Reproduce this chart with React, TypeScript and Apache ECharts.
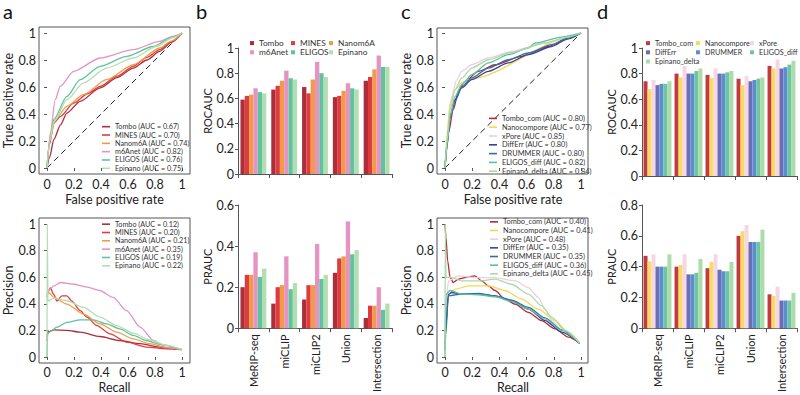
import React, { useEffect, useRef } from "react";
import * as echarts from "echarts";

const FONT = "Lato, 'Open Sans', sans-serif";

// ---------- categories / names ----------
const categories = ["MeRIP-seq", "miCLIP", "miCLIP2", "Union", "Intersection"];
const toolsB = ["Tombo", "MINES", "Nanom6A", "m6Anet", "ELIGOS", "Epinano"];
const colorsB = ["#ad2d3b", "#de3b3e", "#f39a48", "#e493c2", "#62c2a0", "#b2dfb1"];
const rocAucLabelsA = ["0.67", "0.70", "0.74", "0.82", "0.76", "0.75"];
const prAucLabelsA = ["0.12", "0.20", "0.21", "0.35", "0.19", "0.22"];

const toolsD = ["Tombo_com", "Nanocompore", "xPore", "DiffErr", "DRUMMER", "ELIGOS_diff", "Epinano_delta"];
const colorsD = ["#b42a36", "#f3d851", "#f0cde0", "#3d3f8f", "#2f6fa3", "#5cc0a3", "#a9daa6"];
const barColorsD = ["#c13a40", "#f8dc5f", "#f6d5e4", "#6b6db6", "#5a8ecd", "#6ec5a3", "#abdcaa"];
const rocAucLabelsC = ["0.80", "0.77", "0.85", "0.80", "0.80", "0.82", "0.84"];
const prAucLabelsC = ["0.40", "0.41", "0.48", "0.35", "0.35", "0.36", "0.45"];

// ---------- panel a: ROC curves [FPR, TPR] ----------
const rocTomboA = [[0, 0], [0.02, 0.08], [0.05, 0.21], [0.1, 0.32], [0.147, 0.407], [0.246, 0.494], [0.393, 0.593], [0.52, 0.67], [0.639, 0.74], [0.74, 0.8], [0.835, 0.864], [0.92, 0.93], [1, 1]];
const rocMinesA = [[0, 0], [0.02, 0.18], [0.05, 0.333], [0.098, 0.38], [0.197, 0.48], [0.3, 0.55], [0.393, 0.605], [0.52, 0.68], [0.639, 0.753], [0.74, 0.82], [0.835, 0.877], [0.92, 0.935], [1, 1]];
const rocNanom6aA = [[0, 0], [0.02, 0.2], [0.061, 0.358], [0.147, 0.457], [0.27, 0.543], [0.44, 0.654], [0.64, 0.765], [0.835, 0.889], [0.92, 0.94], [1, 1]];
const rocM6anetA = [[0, 0], [0.01, 0.14], [0.025, 0.26], [0.061, 0.506], [0.098, 0.605], [0.197, 0.716], [0.393, 0.815], [0.639, 0.877], [0.835, 0.938], [0.93, 0.975], [1, 1]];
const rocEligosA = [[0, 0], [0.02, 0.2], [0.05, 0.36], [0.147, 0.53], [0.246, 0.654], [0.393, 0.753], [0.59, 0.827], [0.786, 0.9], [0.93, 0.97], [1, 1]];
const rocEpinanoA = [[0, 0], [0.02, 0.2], [0.05, 0.34], [0.147, 0.506], [0.27, 0.63], [0.44, 0.74], [0.64, 0.815], [0.81, 0.9], [0.93, 0.965], [1, 1]];

// ---------- panel a: PR curves [Recall, Precision] ----------
const prTomboA = [[0, 0.12], [0.005, 0.2], [0.012, 0.19], [0.05, 0.204], [0.147, 0.2], [0.246, 0.187], [0.393, 0.154], [0.54, 0.124], [0.69, 0.1], [0.835, 0.075], [1, 0.055]];
const prMinesA = [[0, 0.45], [0.012, 0.5], [0.025, 0.52], [0.05, 0.47], [0.074, 0.42], [0.11, 0.46], [0.147, 0.46], [0.184, 0.42], [0.246, 0.348], [0.295, 0.3], [0.369, 0.236], [0.467, 0.174], [0.59, 0.112], [0.737, 0.075], [0.885, 0.062], [1, 0.055]];
const prNanom6aA = [[0, 0.47], [0.012, 0.485], [0.05, 0.448], [0.147, 0.398], [0.27, 0.323], [0.393, 0.249], [0.516, 0.187], [0.639, 0.137], [0.762, 0.1], [0.885, 0.07], [1, 0.055]];
const prM6anetA = [[0, 0.47], [0.012, 0.5], [0.05, 0.535], [0.1, 0.56], [0.2, 0.547], [0.29, 0.527], [0.39, 0.5], [0.49, 0.448], [0.59, 0.348], [0.69, 0.224], [0.79, 0.124], [0.88, 0.075], [1, 0.055]];
const prEligosA = [[0, 0], [0.005, 0.174], [0.025, 0.194], [0.074, 0.224], [0.147, 0.261], [0.246, 0.279], [0.344, 0.279], [0.442, 0.249], [0.54, 0.211], [0.639, 0.162], [0.737, 0.124], [0.835, 0.095], [1, 0.055]];
const prEpinanoA = [[0, 0], [0.002, 1], [0.007, 0.42], [0.05, 0.443], [0.147, 0.423], [0.27, 0.373], [0.393, 0.3], [0.516, 0.236], [0.639, 0.179], [0.762, 0.129], [0.885, 0.087], [1, 0.055]];

// ---------- panel b: bar values ----------
const rocTomboB = [0.59, 0.67, 0.69, 0.61, 0.74];
const rocMinesB = [0.62, 0.7, 0.64, 0.62, 0.77];
const rocNanom6aB = [0.63, 0.74, 0.75, 0.66, 0.83];
const rocM6anetB = [0.68, 0.82, 0.89, 0.72, 0.94];
const rocEligosB = [0.65, 0.76, 0.8, 0.68, 0.85];
const rocEpinanoB = [0.64, 0.75, 0.77, 0.67, 0.85];
const prTomboB = [0.2, 0.12, 0.14, 0.27, 0.05];
const prMinesB = [0.26, 0.2, 0.21, 0.34, 0.11];
const prNanom6aB = [0.26, 0.21, 0.21, 0.35, 0.11];
const prM6anetB = [0.37, 0.35, 0.41, 0.52, 0.2];
const prEligosB = [0.25, 0.19, 0.24, 0.36, 0.09];
const prEpinanoB = [0.29, 0.22, 0.26, 0.38, 0.12];

// ---------- panel c: ROC curves ----------
const rocTomboComC = [[0, 0], [0.025, 0.26], [0.061, 0.432], [0.098, 0.568], [0.147, 0.642], [0.245, 0.716], [0.368, 0.765], [0.564, 0.827], [0.76, 0.9], [0.9, 0.96], [1, 1]];
const rocNanocomporeC = [[0, 0], [0.015, 0.25], [0.037, 0.48], [0.074, 0.58], [0.123, 0.63], [0.172, 0.654], [0.22, 0.667], [0.907, 0.963], [1, 1]];
const rocXporeC = [[0, 0], [0.012, 0.15], [0.025, 0.31], [0.049, 0.53], [0.086, 0.654], [0.123, 0.716], [0.196, 0.765], [0.319, 0.815], [0.49, 0.864], [0.735, 0.926], [0.9, 0.97], [1, 1]];
const rocDiffErrC = [[0, 0], [0.015, 0.17], [0.037, 0.383], [0.074, 0.506], [0.123, 0.593], [0.196, 0.654], [0.319, 0.716], [0.466, 0.778], [0.613, 0.84], [0.784, 0.9], [0.9, 0.955], [1, 1]];
const rocDrummerC = [[0, 0], [0.015, 0.16], [0.037, 0.37], [0.074, 0.494], [0.123, 0.6], [0.196, 0.667], [0.319, 0.74], [0.466, 0.802], [0.613, 0.852], [0.784, 0.914], [0.9, 0.96], [1, 1]];
const rocEligosDiffC = [[0, 0], [0.015, 0.18], [0.037, 0.383], [0.074, 0.53], [0.123, 0.617], [0.196, 0.691], [0.319, 0.778], [0.466, 0.84], [0.613, 0.889], [0.662, 0.926], [0.858, 0.97], [1, 1]];
const rocEpinanoDeltaC = [[0, 0], [0.015, 0.2], [0.037, 0.43], [0.074, 0.58], [0.123, 0.667], [0.196, 0.74], [0.319, 0.802], [0.49, 0.857], [0.735, 0.926], [0.9, 0.97], [1, 1]];

// ---------- panel c: PR curves ----------
const prTomboComC = [[0, 1], [0.007, 0.9], [0.02, 0.72], [0.037, 0.6], [0.061, 0.56], [0.098, 0.585], [0.147, 0.597], [0.22, 0.61], [0.27, 0.572], [0.319, 0.535], [0.368, 0.5], [0.441, 0.435], [0.515, 0.398], [0.613, 0.336], [0.71, 0.274], [0.809, 0.211], [0.907, 0.149], [0.99, 0.104]];
const prNanocomporeC = [[0, 0.1], [0.005, 0.27], [0.025, 0.47], [0.074, 0.51], [0.172, 0.535], [0.319, 0.535], [0.441, 0.5], [0.564, 0.435], [0.686, 0.36], [0.809, 0.274], [0.907, 0.187], [0.99, 0.104]];
const prXporeC = [[0, 0.1], [0.005, 0.35], [0.025, 0.57], [0.098, 0.61], [0.22, 0.597], [0.368, 0.597], [0.515, 0.572], [0.613, 0.522], [0.686, 0.448], [0.735, 0.36], [0.784, 0.274], [0.858, 0.2], [0.99, 0.104]];
const prDiffErrC = [[0, 0.05], [0.005, 0.22], [0.025, 0.47], [0.049, 0.485], [0.123, 0.473], [0.245, 0.473], [0.368, 0.46], [0.49, 0.423], [0.613, 0.36], [0.735, 0.274], [0.858, 0.187], [0.99, 0.104]];
const prDrummerC = [[0, 0.05], [0.005, 0.17], [0.025, 0.46], [0.123, 0.473], [0.245, 0.478], [0.368, 0.46], [0.49, 0.428], [0.613, 0.373], [0.735, 0.294], [0.858, 0.204], [0.99, 0.104]];
const prEligosDiffC = [[0, 0], [0.007, 0.47], [0.037, 0.5], [0.123, 0.473], [0.245, 0.468], [0.368, 0.453], [0.49, 0.418], [0.613, 0.36], [0.735, 0.286], [0.858, 0.2], [0.99, 0.104]];
const prEpinanoDeltaC = [[0, 0], [0.002, 1], [0.007, 0.6], [0.049, 0.597], [0.123, 0.572], [0.245, 0.572], [0.368, 0.585], [0.49, 0.547], [0.613, 0.473], [0.71, 0.386], [0.784, 0.3], [0.882, 0.2], [0.99, 0.104]];

// ---------- panel d: bar values ----------
const rocTomboComD = [0.74, 0.8, 0.79, 0.76, 0.86];
const rocNanocomporeD = [0.68, 0.77, 0.765, 0.71, 0.84];
const rocXporeD = [0.75, 0.86, 0.84, 0.78, 0.91];
const rocDiffErrD = [0.71, 0.8, 0.8, 0.74, 0.84];
const rocDrummerD = [0.72, 0.8, 0.8, 0.75, 0.85];
const rocEligosDiffD = [0.72, 0.82, 0.81, 0.76, 0.87];
const rocEpinanoDeltaD = [0.74, 0.84, 0.82, 0.77, 0.9];
const prTomboComD = [0.47, 0.4, 0.39, 0.6, 0.22];
const prNanocomporeD = [0.435, 0.41, 0.43, 0.63, 0.21];
const prXporeD = [0.48, 0.48, 0.48, 0.67, 0.27];
const prDiffErrD = [0.4, 0.35, 0.38, 0.56, 0.18];
const prDrummerD = [0.4, 0.35, 0.37, 0.56, 0.18];
const prEligosDiffD = [0.4, 0.36, 0.37, 0.56, 0.18];
const prEpinanoDeltaD = [0.48, 0.45, 0.43, 0.64, 0.23];

const diagonal = [[0, 0], [1, 1]];

const rocCurvesA = [rocTomboA, rocMinesA, rocNanom6aA, rocM6anetA, rocEligosA, rocEpinanoA];
const prCurvesA = [prTomboA, prMinesA, prNanom6aA, prM6anetA, prEligosA, prEpinanoA];
const rocBarsB = [rocTomboB, rocMinesB, rocNanom6aB, rocM6anetB, rocEligosB, rocEpinanoB];
const prBarsB = [prTomboB, prMinesB, prNanom6aB, prM6anetB, prEligosB, prEpinanoB];
const rocCurvesC = [rocTomboComC, rocNanocomporeC, rocXporeC, rocDiffErrC, rocDrummerC, rocEligosDiffC, rocEpinanoDeltaC];
const prCurvesC = [prTomboComC, prNanocomporeC, prXporeC, prDiffErrC, prDrummerC, prEligosDiffC, prEpinanoDeltaC];
const rocBarsD = [rocTomboComD, rocNanocomporeD, rocXporeD, rocDiffErrD, rocDrummerD, rocEligosDiffD, rocEpinanoDeltaD];
const prBarsD = [prTomboComD, prNanocomporeD, prXporeD, prDiffErrD, prDrummerD, prEligosDiffD, prEpinanoDeltaD];

const TXT = "#222";
const AX = "#555";

function lineXAxis(gridIndex: number, offset: number, name: string) {
  return {
    type: "value", gridIndex, min: 0, max: 1, interval: 0.2, offset,
    axisLine: { show: false },
    axisTick: { show: true, length: 3, lineStyle: { color: AX } },
    splitLine: { show: false },
    axisLabel: { fontSize: 12.5, color: TXT, margin: 4, fontFamily: FONT },
    name, nameLocation: "middle", nameGap: 19,
    nameTextStyle: { fontSize: 12.5, color: TXT, fontFamily: FONT },
  };
}
function lineYAxis(gridIndex: number, name: string) {
  return {
    type: "value", gridIndex, min: 0, max: 1, interval: 0.2, offset: 8,
    axisLine: { show: false },
    axisTick: { show: true, length: 3, lineStyle: { color: AX } },
    splitLine: { show: false },
    axisLabel: { fontSize: 12.5, color: TXT, margin: 3, fontFamily: FONT },
    name, nameLocation: "middle", nameGap: 22,
    nameTextStyle: { fontSize: 12.5, color: TXT, fontFamily: FONT },
  };
}
function barXAxis(gridIndex: number, showLabels: boolean) {
  return {
    type: "category", gridIndex, data: categories,
    axisLine: { show: true, lineStyle: { color: AX } },
    axisTick: { show: true, length: 4, lineStyle: { color: AX } },
    axisLabel: { show: showLabels, rotate: 90, fontSize: 11, color: TXT, margin: 6, fontFamily: FONT },
  };
}
function barYAxis(gridIndex: number, max: number, name: string) {
  return {
    type: "value", gridIndex, min: 0, max, interval: 0.2,
    axisLine: { show: true, lineStyle: { color: AX } },
    axisTick: { show: true, length: 3, lineStyle: { color: AX } },
    splitLine: { show: false },
    axisLabel: { fontSize: 12.5, color: TXT, margin: 4, fontFamily: FONT },
    name, nameLocation: "middle", nameGap: 20,
    nameTextStyle: { fontSize: 11, color: TXT, fontFamily: FONT },
  };
}
function lineLegend(names: string[], left: number, top: number, lh: number, fs: number) {
  return {
    orient: "vertical", left, top, data: names, icon: "rect",
    itemWidth: 8, itemHeight: 1.6, itemGap: 0, padding: 0,
    textStyle: { fontSize: fs, color: "#333", lineHeight: lh, fontFamily: FONT },
    selectedMode: false,
  };
}
function barLegend(names: string[], left: number, top: number, fs: number) {
  return {
    orient: "vertical", left, top, data: names, icon: "rect",
    itemWidth: 4, itemHeight: 4, itemGap: 0, padding: 0,
    textStyle: { fontSize: fs, color: "#333", lineHeight: 9.2, fontFamily: FONT },
    selectedMode: false,
  };
}

export default function App() {
  const ref = useRef<HTMLDivElement>(null);
  useEffect(() => {
    if (!ref.current) return;
    const chart = echarts.init(ref.current, undefined, { renderer: "svg" });

    const namesRocA = toolsB.map((t, i) => `${t} (AUC = ${rocAucLabelsA[i]})`);
    const namesPrA = toolsB.map((t, i) => `${t} (AUC = ${prAucLabelsA[i]})`);
    const namesRocC = toolsD.map((t, i) => `${t} (AUC = ${rocAucLabelsC[i]})`);
    const namesPrC = toolsD.map((t, i) => `${t} (AUC = ${prAucLabelsC[i]})`);

    const series: any[] = [];
    const curve = (name: string, data: number[][], color: string, idx: number) => ({
      type: "line", name, data, xAxisIndex: idx, yAxisIndex: idx,
      showSymbol: false, symbol: "none", smooth: 0.25, smoothMonotone: "x",
      lineStyle: { color, width: 1.3 }, itemStyle: { color },
    });
    const dash = (idx: number) => ({
      type: "line", name: "diag" + idx, data: diagonal, xAxisIndex: idx, yAxisIndex: idx,
      showSymbol: false, symbol: "none",
      lineStyle: { color: "#222", width: 1, type: [6, 4] },
    });
    series.push(dash(0));
    rocCurvesA.forEach((d, i) => series.push(curve(namesRocA[i], d, colorsB[i], 0)));
    prCurvesA.forEach((d, i) => series.push(curve(namesPrA[i], d, colorsB[i], 1)));
    series.push(dash(2));
    rocCurvesC.forEach((d, i) => series.push(curve(namesRocC[i], d, colorsD[i], 2)));
    prCurvesC.forEach((d, i) => series.push(curve(namesPrC[i], d, colorsD[i], 3)));

    const bar = (name: string, data: number[], color: string, idx: number, gap: string) => ({
      type: "bar", name, data, xAxisIndex: idx, yAxisIndex: idx,
      barGap: "0%", barCategoryGap: gap, itemStyle: { color },
    });
    rocBarsB.forEach((d, i) => series.push(bar(toolsB[i], d, colorsB[i], 4, "16%")));
    prBarsB.forEach((d, i) => series.push(bar(toolsB[i], d, colorsB[i], 5, "16%")));
    rocBarsD.forEach((d, i) => series.push(bar(toolsD[i], d, barColorsD[i], 6, "10%")));
    prBarsD.forEach((d, i) => series.push(bar(toolsD[i], d, barColorsD[i], 7, "10%")));

    const box = (x: number, y: number, w: number, h: number) => ({
      type: "rect", shape: { x, y, width: w, height: h }, silent: true, z: 100,
      style: { fill: "none", stroke: "#555", lineWidth: 1 },
    });
    const letter = (t: string, x: number, y: number) => ({
      type: "text", x, y, silent: true, z: 100,
      style: { text: t, fontSize: 20, fontFamily: FONT, fill: "#111", textVerticalAlign: "top" },
    });

    chart.setOption({
      animation: false,
      textStyle: { fontFamily: FONT },
      grid: [
        { left: 47, top: 33, width: 135, height: 135 },
        { left: 47, top: 224, width: 135, height: 134 },
        { left: 445, top: 33, width: 136, height: 135 },
        { left: 445, top: 224, width: 136, height: 134 },
        { left: 238, top: 48, width: 154, height: 126 },
        { left: 238, top: 205, width: 154, height: 127 },
        { left: 642, top: 48, width: 155, height: 128 },
        { left: 642, top: 205, width: 155, height: 127 },
      ],
      xAxis: [
        lineXAxis(0, 6, "False positive rate"),
        lineXAxis(1, 5, "Recall"),
        lineXAxis(2, 6, "False positive rate"),
        lineXAxis(3, 5, "Recall"),
        barXAxis(4, false),
        barXAxis(5, true),
        barXAxis(6, false),
        barXAxis(7, true),
      ],
      yAxis: [
        lineYAxis(0, "True positive rate"),
        lineYAxis(1, "Precision"),
        lineYAxis(2, "True positive rate"),
        lineYAxis(3, "Precision"),
        barYAxis(4, 1, "ROCAUC"),
        barYAxis(5, 0.6, "PRAUC"),
        barYAxis(6, 1, "ROCAUC"),
        barYAxis(7, 0.8, "PRAUC"),
      ],
      legend: [
        lineLegend(namesRocA, 102, 122.5, 8.33, 7.2),
        lineLegend(namesPrA, 102, 220, 8.33, 7.2),
        lineLegend(namesRocC, 489, 114, 8.8, 7.4),
        lineLegend(namesPrC, 490, 217.5, 8.67, 7.4),
        barLegend([toolsB[0], toolsB[3]], 250, 38.5, 8.3),
        barLegend([toolsB[1], toolsB[4]], 291, 38.5, 8.3),
        barLegend([toolsB[2], toolsB[5]], 329, 38.5, 8.3),
        barLegend([toolsD[0], toolsD[3], toolsD[6]], 646, 38.5, 7.2),
        barLegend([toolsD[1], toolsD[4]], 696, 38.5, 7.2),
        barLegend([toolsD[2], toolsD[5]], 750, 38.5, 7.2),
      ],
      graphic: [
        box(39, 27, 151, 147),
        box(39, 218, 151, 145),
        box(437, 28, 151, 146),
        box(437, 218, 151, 145),
        letter("a", 3, 1),
        letter("b", 196, 1),
        letter("c", 401, 1),
        letter("d", 597, 1),
      ],
      series,
    });
    return () => chart.dispose();
  }, []);
  return <div ref={ref} style={{ width: 800, height: 395, position: "absolute", left: 0, top: 0 }} />;
}
